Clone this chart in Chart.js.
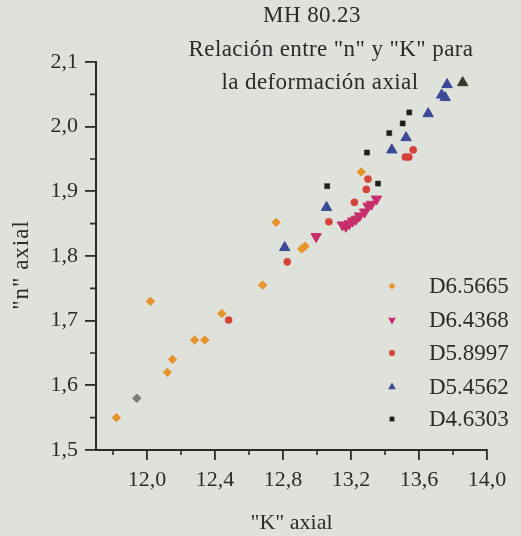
<!DOCTYPE html>
<html>
<head>
<meta charset="utf-8">
<script src="https://cdn.jsdelivr.net/npm/chart.js@4.4.1/dist/chart.umd.min.js"></script>
<style>
  html, body { margin: 0; padding: 0; background: #dfe2da; }
  #c { display: block; }
</style>
</head>
<body>
<canvas id="c" width="521" height="536"></canvas>
<script>
// Titles and axis labels
const titleLines = ['MH 80.23', 'Relación entre "n" y "K" para', 'la deformación axial'];
const xAxisTitle = '"K" axial';
const yAxisTitle = '"n" axial';

// Tick values
const xTicks = [12.0, 12.4, 12.8, 13.2, 13.6, 14.0];
const xMinorTicks = [11.8, 12.2, 12.6, 13.0, 13.4, 13.8];
const yTicks = [1.5, 1.6, 1.7, 1.8, 1.9, 2.0, 2.1];
const yMinorTicks = [1.55, 1.65, 1.75, 1.85, 1.95, 2.05];

// Series names
const seriesNames = ['D6.5665', 'D6.4368', 'D5.8997', 'D5.4562', 'D4.6303'];

// D6.5665
const kD65665 = [11.82, 11.94, 12.02, 12.12, 12.15, 12.28, 12.34, 12.44, 12.68, 12.76, 12.91, 12.93, 13.26];
const nD65665 = [1.550, 1.580, 1.730, 1.620, 1.640, 1.670, 1.670, 1.711, 1.755, 1.852, 1.811, 1.815, 1.930];
// D6.4368
const kD64368 = [12.995, 13.15, 13.17, 13.19, 13.21, 13.23, 13.25, 13.28, 13.30, 13.32, 13.35];
const nD64368 = [1.830, 1.848, 1.846, 1.850, 1.854, 1.857, 1.862, 1.868, 1.877, 1.880, 1.888];
// D5.8997
const kD58997 = [12.48, 12.825, 13.07, 13.22, 13.29, 13.30, 13.52, 13.54, 13.566];
const nD58997 = [1.701, 1.791, 1.853, 1.883, 1.903, 1.919, 1.953, 1.953, 1.964];
// D5.4562
const kD54562 = [12.81, 13.056, 13.44, 13.524, 13.654, 13.733, 13.754, 13.765, 13.857];
const nD54562 = [1.813, 1.875, 1.964, 1.983, 2.020, 2.049, 2.045, 2.065, 2.068];
// D4.6303
const kD46303 = [13.06, 13.294, 13.359, 13.425, 13.504, 13.543];
const nD46303 = [1.908, 1.960, 1.912, 1.990, 2.005, 2.022];

const toPoints = (ks, ns) => ks.map((k, i) => ({ x: k, y: ns[i] }));

const ORANGE = '#e8942c';
const MAGENTA = '#c72f6c';
const RED = '#d4423a';
const BLUE = '#3b4996';
const BLACK = '#1f1f1f';
const INK = '#2b2b2b';
const FONT = '"Liberation Serif", "DejaVu Serif", serif';

const orangeColors = kD65665.map((_, i) => (i === 1 ? '#7c7d76' : ORANGE));
const blueColors = kD54562.map((_, i) => (i === kD54562.length - 1 ? '#35382f' : BLUE));

const datasets = [
  { label: seriesNames[0], data: toPoints(kD65665, nD65665), pointStyle: 'rectRot', pointRadius: 4.2,
    backgroundColor: orangeColors, borderColor: orangeColors, pointBorderWidth: 1 },
  { label: seriesNames[1], data: toPoints(kD64368, nD64368), pointStyle: 'triangle', pointRotation: 180, pointRadius: 6,
    backgroundColor: MAGENTA, borderColor: MAGENTA, pointBorderWidth: 1 },
  { label: seriesNames[2], data: toPoints(kD58997, nD58997), pointStyle: 'circle', pointRadius: 3.6,
    backgroundColor: RED, borderColor: RED, pointBorderWidth: 0.5 },
  { label: seriesNames[3], data: toPoints(kD54562, nD54562), pointStyle: 'triangle', pointRadius: 6,
    backgroundColor: blueColors, borderColor: blueColors, pointBorderWidth: 1 },
  { label: seriesNames[4], data: toPoints(kD46303, nD46303), pointStyle: 'rect', pointRadius: 3.6,
    backgroundColor: BLACK, borderColor: BLACK, pointBorderWidth: 0.5 }
];

// Paper-coloured background
const backgroundPlugin = {
  id: 'paper',
  beforeDraw(chart) {
    const ctx = chart.ctx;
    ctx.save();
    ctx.fillStyle = '#dfe2da';
    ctx.fillRect(0, 0, chart.width, chart.height);
    ctx.restore();
  }
};

// Short minor ticks between the labelled ones
const minorTickPlugin = {
  id: 'minorTicks',
  afterDraw(chart) {
    const { ctx, chartArea, scales } = chart;
    ctx.save();
    ctx.strokeStyle = INK;
    ctx.lineWidth = 1.6;
    ctx.beginPath();
    xMinorTicks.forEach(v => {
      const x = scales.x.getPixelForValue(v);
      ctx.moveTo(x, chartArea.bottom);
      ctx.lineTo(x, chartArea.bottom + 5);
    });
    yMinorTicks.forEach(v => {
      const y = scales.y.getPixelForValue(v);
      ctx.moveTo(chartArea.left, y);
      ctx.lineTo(chartArea.left - 6, y);
    });
    ctx.stroke();
    ctx.restore();
  }
};

// Three-line heading over the upper part of the plot, plus the vertical axis caption
const headingPlugin = {
  id: 'heading',
  afterDraw(chart) {
    const ctx = chart.ctx;
    const spots = [[312, 16], [331, 50], [320, 83]];
    ctx.save();
    ctx.fillStyle = INK;
    ctx.font = '23px ' + FONT;
    ctx.letterSpacing = '0.4px';
    ctx.textAlign = 'center';
    ctx.textBaseline = 'middle';
    titleLines.forEach((t, i) => ctx.fillText(t, spots[i][0], spots[i][1]));
    ctx.restore();

    ctx.save();
    ctx.fillStyle = INK;
    ctx.font = '23px ' + FONT;
    ctx.letterSpacing = '1px';
    ctx.textAlign = 'center';
    ctx.textBaseline = 'middle';
    ctx.translate(22, 265);
    ctx.rotate(-Math.PI / 2);
    ctx.fillText(yAxisTitle, 0, 0);
    ctx.restore();
  }
};

function drawMarker(ctx, ds, x, y, r) {
  const color = Array.isArray(ds.backgroundColor) ? ds.backgroundColor[0] : ds.backgroundColor;
  ctx.fillStyle = color;
  ctx.beginPath();
  if (ds.pointStyle === 'circle') {
    ctx.arc(x, y, r, 0, Math.PI * 2);
  } else if (ds.pointStyle === 'rect') {
    ctx.rect(x - r * 0.8, y - r * 0.8, r * 1.6, r * 1.6);
  } else if (ds.pointStyle === 'rectRot') {
    ctx.moveTo(x, y - r); ctx.lineTo(x + r, y); ctx.lineTo(x, y + r); ctx.lineTo(x - r, y);
  } else if (ds.pointStyle === 'triangle') {
    const s = ds.pointRotation === 180 ? -1 : 1;
    ctx.moveTo(x, y - s * r); ctx.lineTo(x + r * 0.87, y + s * r * 0.5); ctx.lineTo(x - r * 0.87, y + s * r * 0.5);
  }
  ctx.closePath();
  ctx.fill();
}

// Legend placed inside the plot, lower right
const insideLegendPlugin = {
  id: 'insideLegend',
  afterDraw(chart) {
    const ctx = chart.ctx;
    const rows = [286, 320, 353, 387, 419];
    const sizes = [3.5, 4.5, 3, 4.5, 3];
    ctx.save();
    ctx.font = '23px ' + FONT;
    ctx.textBaseline = 'middle';
    ctx.textAlign = 'left';
    chart.data.datasets.forEach((ds, i) => {
      drawMarker(ctx, ds, 392, rows[i], sizes[i]);
      ctx.fillStyle = INK;
      ctx.fillText(ds.label, 429, rows[i] + 1);
    });
    ctx.restore();
  }
};

const commaFmt = v => Number(v).toFixed(1).replace('.', ',');

new Chart(document.getElementById('c'), {
  type: 'scatter',
  data: { datasets },
  options: {
    responsive: false,
    animation: false,
    devicePixelRatio: 1,
    layout: { padding: { left: 0, top: 62, right: 34, bottom: 0 } },
    plugins: {
      legend: { display: false },
      title: { display: false },
      tooltip: { enabled: false }
    },
    scales: {
      x: {
        type: 'linear',
        min: 11.7,
        max: 14.0,
        afterBuildTicks(scale) { scale.ticks = xTicks.map(v => ({ value: v })); },
        afterFit(scale) { scale.height = 86; },
        border: { display: true, color: INK, width: 2 },
        grid: { display: true, drawOnChartArea: false, drawTicks: true, tickLength: 10, color: INK, lineWidth: 1.8 },
        ticks: { color: INK, font: { family: FONT, size: 22 }, padding: 7, callback: commaFmt, maxRotation: 0, autoSkip: false },
        title: { display: true, text: xAxisTitle, color: INK, font: { family: FONT, size: 22 }, padding: { top: 0, bottom: 0 } }
      },
      y: {
        type: 'linear',
        min: 1.5,
        max: 2.1,
        afterBuildTicks(scale) { scale.ticks = yTicks.map(v => ({ value: v })); },
        afterFit(scale) { scale.width = 96; },
        border: { display: true, color: INK, width: 2 },
        grid: { display: true, drawOnChartArea: false, drawTicks: true, tickLength: 11, color: INK, lineWidth: 1.8 },
        ticks: { color: INK, font: { family: FONT, size: 22 }, padding: 7, callback: commaFmt, autoSkip: false },
        title: { display: false }
      }
    }
  },
  plugins: [backgroundPlugin, minorTickPlugin, headingPlugin, insideLegendPlugin]
});
</script>
</body>
</html>
